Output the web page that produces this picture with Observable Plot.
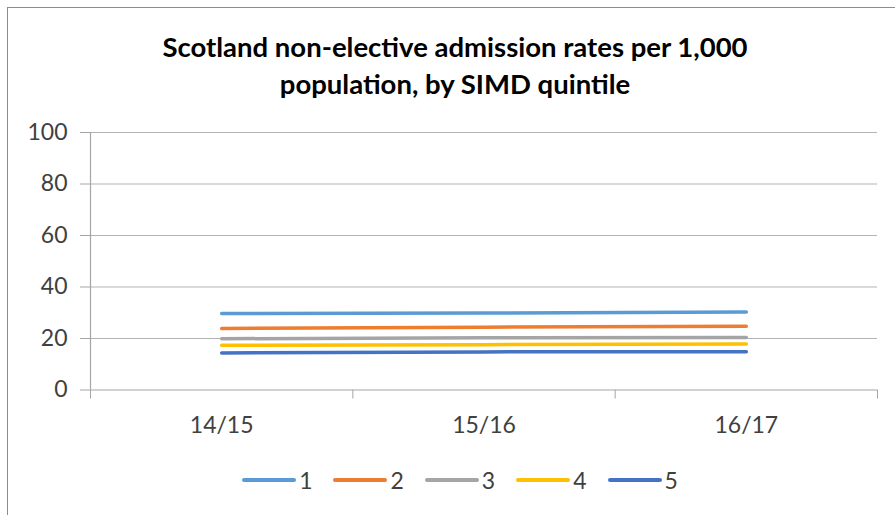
<!DOCTYPE html>
<html>
<head>
<meta charset="utf-8">
<script src="https://cdn.jsdelivr.net/npm/d3@7"></script>
<script src="https://cdn.jsdelivr.net/npm/@observablehq/plot@0.6"></script>
<style>
  html, body { margin: 0; padding: 0; background: #fff; }
  #chart { position: relative; width: 895px; height: 515px; overflow: hidden; font-family: Lato, "Open Sans", sans-serif; }
  #frame { position: absolute; left: 7px; top: 7px; right: -10px; bottom: -10px; border-top: 1.5px solid #8c8c8c; border-left: 1.5px solid #8c8c8c; }
  #title { position: absolute; left: 7px; width: 896px; top: 27.5px; text-align: center; font-weight: 700; font-size: 27.5px; line-height: 37px; color: #000; }
  #plot { position: absolute; left: 0; top: 0; }
  #legend { position: absolute; left: 12px; width: 896px; top: 465px; height: 30px; display: flex; justify-content: center; align-items: center; font-size: 23px; color: #404040; }
  .item { display: flex; align-items: center; margin: 0 10.5px; }
  .swatch { width: 54px; height: 3.2px; border-radius: 2px; margin-right: 3px; }
</style>
</head>
<body>
<div id="chart">
  <div id="frame"></div>
  <div id="title">Scotland non-elective admission rates per 1,000<br>population, by SIMD quintile</div>
  <div id="plot"></div>
  <div id="legend"></div>
</div>
<script>
// Financial years on the category axis
const years = ["14/15", "15/16", "16/17"];
// SIMD quintiles and their line colours
const quintiles = ["1", "2", "3", "4", "5"];
const colors = ["#5B9BD5", "#ED7D31", "#A5A5A5", "#FFC000", "#4472C4"];
// Admission rates per 1,000 population, one array per quintile
const q1 = [29.7, 29.9, 30.3];
const q2 = [23.9, 24.4, 24.8];
const q3 = [19.9, 20.3, 20.4];
const q4 = [17.4, 17.6, 17.9];
const q5 = [14.4, 14.8, 14.9];
// Value axis ticks
const yTicks = [0, 20, 40, 60, 80, 100];

const series = [q1, q2, q3, q4, q5];
const rows = series.flatMap((vals, s) =>
  vals.map((v, i) => ({quintile: quintiles[s], idx: i, value: v}))
);

// Category index positions and the boundaries between categories
const centers = years.map((_, i) => i);
const bounds = d3.range(-0.5, years.length, 1);

const plot = Plot.plot({
  width: 895,
  height: 450,
  marginTop: 132,
  marginBottom: 60.5,
  marginLeft: 90,
  marginRight: 18,
  style: {fontFamily: "Lato, 'Open Sans', sans-serif", background: "transparent"},
  x: {domain: [-0.5, years.length - 0.5]},
  y: {domain: [0, 100]},
  color: {domain: quintiles, range: colors},
  marks: [
    Plot.ruleY(yTicks.filter(t => t > 0), {stroke: "#b3b3b3", strokeWidth: 1}),
    Plot.ruleY([0], {stroke: "#a6a6a6", strokeWidth: 1.2}),
    Plot.ruleX([-0.5], {y1: 0, y2: 100, stroke: "#a6a6a6", strokeWidth: 1.2}),
    Plot.axisY({ticks: yTicks, tickSize: 10, tickPadding: 13, fontSize: 23, color: "#404040", stroke: "#a6a6a6", strokeOpacity: 1, label: null}),
    Plot.axisX({ticks: bounds, tickSize: 9, tickFormat: () => "", stroke: "#a6a6a6", strokeOpacity: 1, label: null}),
    Plot.axisX({ticks: centers, tickSize: 0, tickPadding: 27, tickFormat: i => years[i], fontSize: 23, color: "#404040", label: null}),
    Plot.line(rows, {x: "idx", y: "value", z: "quintile", stroke: "quintile", strokeWidth: 3.5, strokeLinecap: "round"})
  ]
});
document.getElementById("plot").appendChild(plot);

// Legend below the plot
const legend = document.getElementById("legend");
quintiles.forEach((q, i) => {
  const item = document.createElement("div");
  item.className = "item";
  const sw = document.createElement("span");
  sw.className = "swatch";
  sw.style.background = colors[i];
  const label = document.createElement("span");
  label.textContent = q;
  item.appendChild(sw);
  item.appendChild(label);
  legend.appendChild(item);
});
</script>
</body>
</html>
